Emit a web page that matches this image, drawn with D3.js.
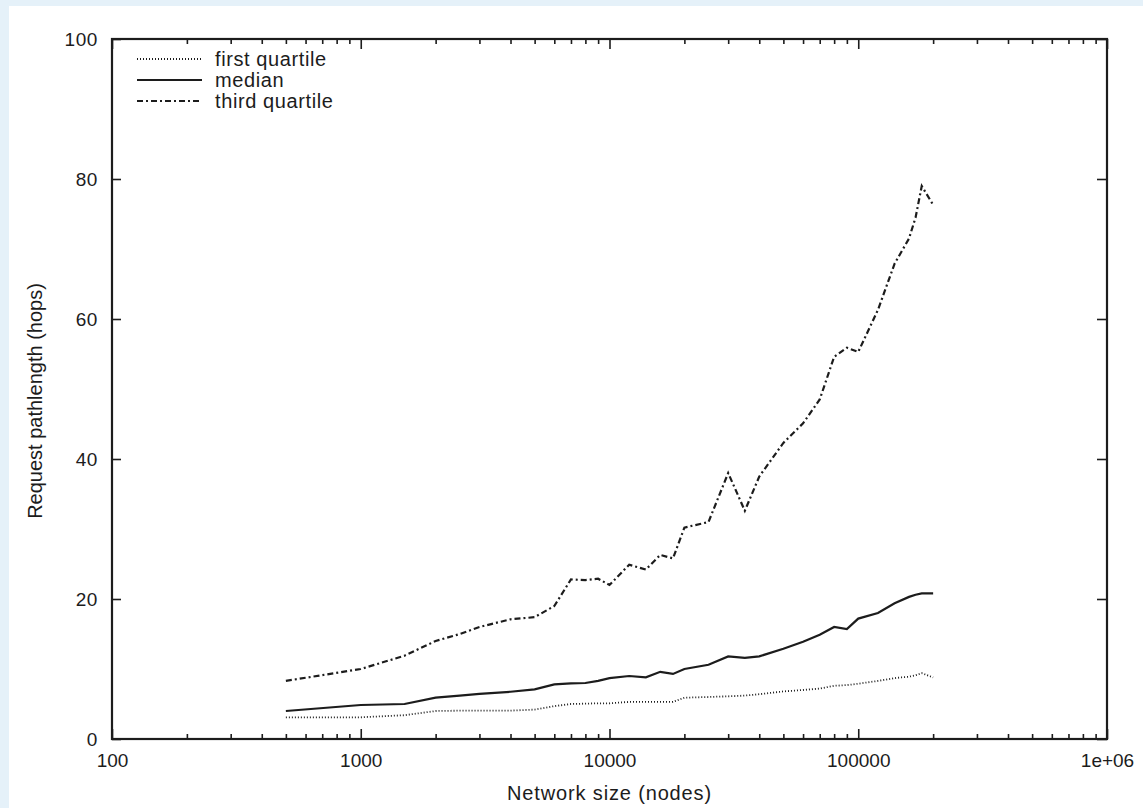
<!DOCTYPE html>
<html>
<head>
<meta charset="utf-8">
<script src="https://cdn.jsdelivr.net/npm/d3@7"></script>
<style>
body { margin: 0; background: #e5f1f9; }
svg text { font-family: 'Liberation Sans', Arial, Helvetica, sans-serif; fill: #1c1c1c; }
</style>
</head>
<body>
<div id="chart"></div>
<script>
// network sizes (nodes) and request pathlength quartiles (hops)
var nodes = [500, 1000, 1500, 2000, 2500, 3000, 4000, 5000, 6000, 7000, 8000, 9000, 10000,
    12000, 14000, 16000, 18000, 20000, 25000, 30000, 35000, 40000, 50000, 60000, 70000,
    80000, 90000, 100000, 120000, 140000, 160000, 170000, 180000, 200000]

var firstQuartile = [3.1, 3.1, 3.4, 4.0, 4.05, 4.05, 4.05, 4.2, 4.7, 5.0, 5.05, 5.1, 5.1,
    5.3, 5.3, 5.3, 5.3, 5.9, 6.0, 6.1, 6.2, 6.4, 6.8, 7.0, 7.2,
    7.6, 7.7, 7.9, 8.3, 8.7, 8.9, 9.1, 9.4, 8.8]

var median = [4.0, 4.86, 5.0, 5.9, 6.2, 6.45, 6.75, 7.1, 7.8, 7.95, 8.0, 8.3, 8.7,
    9.0, 8.8, 9.6, 9.3, 10.0, 10.6, 11.8, 11.6, 11.8, 12.9, 13.9, 14.9,
    16.0, 15.7, 17.2, 18.0, 19.4, 20.3, 20.6, 20.8, 20.8]

var thirdQuartile = [8.3, 10.0, 11.9, 14.0, 15.0, 16.0, 17.1, 17.4, 19.0, 22.8, 22.7, 22.9, 22.0,
    24.9, 24.2, 26.3, 25.8, 30.2, 31.0, 38.0, 32.6, 37.5, 42.3, 45.1, 48.5,
    54.6, 55.9, 55.3, 61.3, 67.9, 71.5, 74.5, 79.0, 76.3]

var seriesNames = ['first quartile', 'median', 'third quartile']

var xTicks = [100, 1000, 10000, 100000, 1000000]
var xTickLabels = ['100', '1000', '10000', '100000', '1e+06']
var yTicks = [0, 20, 40, 60, 80, 100]

var width = 1143
var height = 808
var margin = { top: 39, right: 36, bottom: 69, left: 112 }
var fontSize = 19
var ink = '#1c1c1c'

var svg = d3.select('#chart')
    .append('svg')
    .attr('width', width)
    .attr('height', height)

// white panel over the light blue page
svg.append('rect')
    .attr('x', 9)
    .attr('y', 6)
    .attr('width', width - 9)
    .attr('height', height - 6)
    .attr('fill', '#ffffff')

var xScale = d3.scaleLog()
    .domain([100, 1000000])
    .range([margin.left, width - margin.right])

var yScale = d3.scaleLinear()
    .domain([0, 100])
    .range([height - margin.bottom, margin.top])

// minor ticks 2..9 in every decade
var minorTicks = []
xTicks.slice(0, -1).forEach(function (d) {
    for (var k = 2; k < 10; k++) minorTicks.push(d * k)
})

function styleAxis(g) {
    g.selectAll('.domain').remove()
    g.selectAll('line').attr('stroke', ink).attr('stroke-width', 1.6)
    g.selectAll('text').attr('font-size', fontSize).attr('fill', ink)
}

var bottomY = height - margin.bottom

// bottom axis with labels
svg.append('g')
    .attr('transform', 'translate(0,' + bottomY + ')')
    .call(d3.axisBottom(xScale).tickValues(xTicks)
        .tickFormat(function (d, i) { return xTickLabels[i] })
        .tickSizeInner(-10).tickSizeOuter(0).tickPadding(15))
    .call(styleAxis)

svg.append('g')
    .attr('transform', 'translate(0,' + bottomY + ')')
    .call(d3.axisBottom(xScale).tickValues(minorTicks).tickFormat('')
        .tickSizeInner(-5).tickSizeOuter(0))
    .call(styleAxis)

// top axis, mirrored ticks
svg.append('g')
    .attr('transform', 'translate(0,' + margin.top + ')')
    .call(d3.axisTop(xScale).tickValues(xTicks).tickFormat('')
        .tickSizeInner(-10).tickSizeOuter(0))
    .call(styleAxis)

svg.append('g')
    .attr('transform', 'translate(0,' + margin.top + ')')
    .call(d3.axisTop(xScale).tickValues(minorTicks).tickFormat('')
        .tickSizeInner(-5).tickSizeOuter(0))
    .call(styleAxis)

// left axis with labels
svg.append('g')
    .attr('transform', 'translate(' + margin.left + ',0)')
    .call(d3.axisLeft(yScale).tickValues(yTicks).tickFormat(d3.format('d'))
        .tickSizeInner(-9).tickSizeOuter(0).tickPadding(14))
    .call(styleAxis)
    .selectAll('text').attr('letter-spacing', 0.6)

// right axis, mirrored ticks
svg.append('g')
    .attr('transform', 'translate(' + (width - margin.right) + ',0)')
    .call(d3.axisRight(yScale).tickValues(yTicks).tickFormat('')
        .tickSizeInner(-10).tickSizeOuter(0))
    .call(styleAxis)

// frame
svg.append('rect')
    .attr('x', margin.left)
    .attr('y', margin.top)
    .attr('width', width - margin.left - margin.right)
    .attr('height', height - margin.top - margin.bottom)
    .attr('fill', 'none')
    .attr('stroke', ink)
    .attr('stroke-width', 2.2)

// axis titles
svg.append('text')
    .attr('x', (margin.left + width - margin.right) / 2)
    .attr('y', 800)
    .attr('text-anchor', 'middle')
    .attr('font-size', 20)
    .attr('letter-spacing', 0.85)
    .text('Network size (nodes)')

svg.append('text')
    .attr('transform', 'translate(42,401)rotate(-90)')
    .attr('text-anchor', 'middle')
    .attr('font-size', 20)
    .text('Request pathlength (hops)')

// series
var series = [
    { name: seriesNames[0], values: firstQuartile, width: 1.8, dash: '1,2' },
    { name: seriesNames[1], values: median, width: 2.2, dash: null },
    { name: seriesNames[2], values: thirdQuartile, width: 2.2, dash: '6,3,2,3' }
]

var line = d3.line()
    .x(function (d, i) { return xScale(nodes[i]) })
    .y(function (d) { return yScale(d) })

series.forEach(function (s) {
    svg.append('path')
        .datum(s.values)
        .attr('d', line)
        .attr('fill', 'none')
        .attr('stroke', ink)
        .attr('stroke-width', s.width)
        .attr('stroke-dasharray', s.dash)
})

// legend
var legend = svg.append('g')

series.forEach(function (s, i) {
    var ly = 59 + i * 21
    legend.append('line')
        .attr('x1', 137)
        .attr('x2', 202)
        .attr('y1', ly)
        .attr('y2', ly)
        .attr('stroke', ink)
        .attr('stroke-width', s.width)
        .attr('stroke-dasharray', s.dash)
    legend.append('text')
        .attr('x', 215)
        .attr('y', ly)
        .attr('dy', '0.35em')
        .attr('font-size', 20)
        .attr('letter-spacing', 0.6)
        .text(s.name)
})
</script>
</body>
</html>
